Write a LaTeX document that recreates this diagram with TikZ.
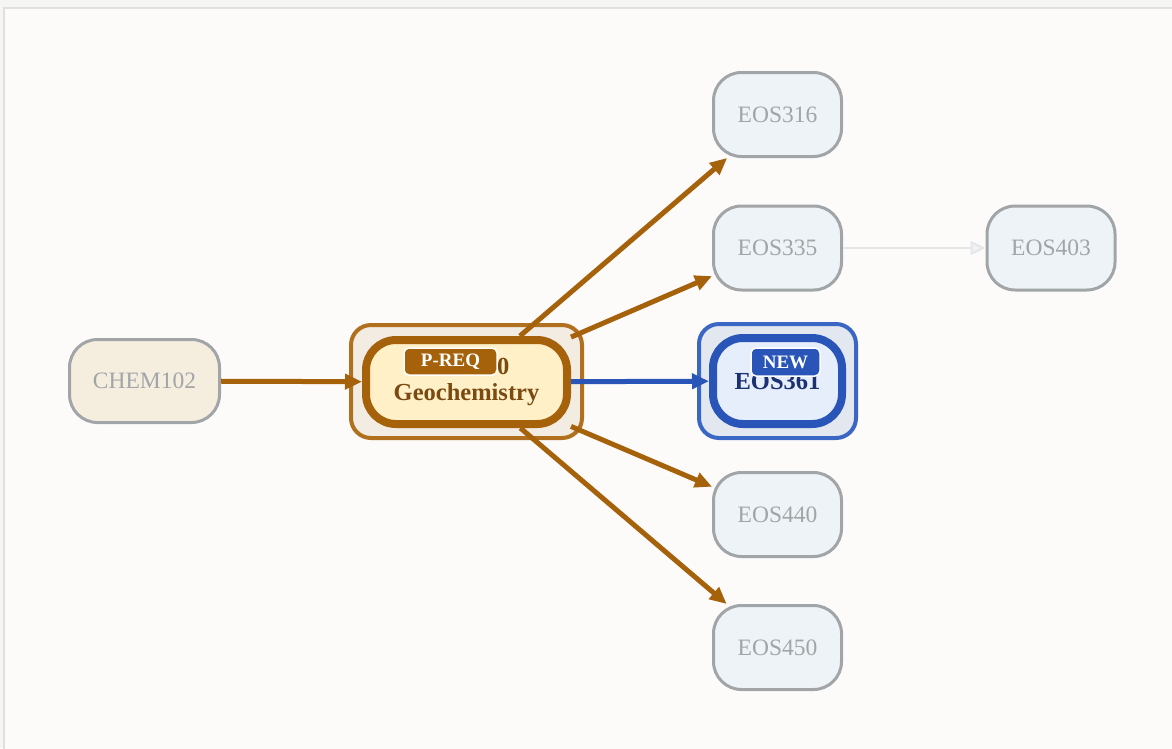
\documentclass[tikz,border=0pt]{standalone}
\usepackage{fontspec}
\setmainfont{Liberation Serif}
\usetikzlibrary{arrows.meta}

\definecolor{pagebg}{HTML}{F5F5F4}
\definecolor{panelbg}{HTML}{FCFBFA}
\definecolor{panelline}{HTML}{E0E0E0}
\definecolor{mutegray}{HTML}{A2A5A8}
\definecolor{coursefill}{HTML}{EDF3F6}
\definecolor{chemfill}{HTML}{F5EEDF}
\definecolor{ochre}{HTML}{A5620A}
\definecolor{ochreframe}{HTML}{B0701E}
\definecolor{framefill}{HTML}{F2ECE3}
\definecolor{corefill}{HTML}{FFF0C8}
\definecolor{coretext}{HTML}{7A4A10}
\definecolor{royal}{HTML}{2A55B8}
\definecolor{royalframe}{HTML}{3A66C4}
\definecolor{blueframefill}{HTML}{E3E8F0}
\definecolor{bluecorefill}{HTML}{E6EEFC}
\definecolor{navytext}{HTML}{1C3270}
\definecolor{fadeline}{HTML}{E4E6E8}
\definecolor{fadefill}{HTML}{F0F2F4}

\begin{document}
\begin{tikzpicture}[x=1pt,y=-1pt,
  course/.style={draw=mutegray, line width=3pt, rounded corners=28pt,
    fill=coursefill, text=mutegray, font=\fontsize{23.5}{26}\selectfont,
    minimum width=128pt, minimum height=84pt, inner sep=0pt},
  chemcourse/.style={course, fill=chemfill, minimum width=150pt, minimum height=83pt},
  outerframe/.style={line width=4pt, rounded corners=20pt, inner sep=0pt},
  corebox/.style={line width=8pt, rounded corners=30pt, inner sep=0pt,
    font=\bfseries\fontsize{24.5}{26}\selectfont, align=center},
  badge/.style={draw=white, line width=1.5pt, rounded corners=5pt, text=white,
    font=\bfseries\fontsize{19}{19}\selectfont, inner sep=0pt},
  ochreedge/.style={draw=ochre, line width=5pt, -{Triangle[length=17pt,width=15pt]}},
  royaledge/.style={draw=royal, line width=5pt, -{Triangle[length=17pt,width=15pt]}},
  fadeedge/.style={draw=fadeline, line width=2pt,
    -{Triangle[length=15pt,width=14pt,fill=fadefill]}}
]
\useasboundingbox (0,0) rectangle (1172,748);
\clip (0,0) rectangle (1172,748);
\fill[pagebg] (0,0) rectangle (1172,748);
\draw[draw=panelline, fill=panelbg, line width=2pt] (4,8) rectangle (1190,770);

% prerequisite on the left
\node[chemcourse] (chem) at (144.5,381) {CHEM102};

% selected course with its frame and badge
\node[outerframe, draw=ochreframe, fill=framefill,
      minimum width=231pt, minimum height=113pt] (geoframe) at (466.5,381.5) {};
\node[corebox, draw=ochre, fill=corefill, text=coretext,
      minimum width=201pt, minimum height=84pt] (geo) at (466.5,382) {EOS220\\Geochemistry};
\node[badge, fill=ochre, minimum width=93pt, minimum height=27pt] (preq) at (450.5,361.5) {P-REQ};

% new course with its frame and badge
\node[outerframe, draw=royalframe, fill=blueframefill,
      minimum width=157pt, minimum height=114pt] (newframe) at (777.5,381) {};
\node[corebox, draw=royal, fill=bluecorefill, text=navytext,
      minimum width=129pt, minimum height=86pt] (e361) at (777.5,381) {EOS361};
\node[badge, fill=royal, minimum width=69pt, minimum height=28pt] (newtag) at (785.5,362) {NEW};

% follow-on courses
\node[course] (e316) at (777.5,114.5) {EOS316};
\node[course] (e335) at (777.5,248) {EOS335};
\node[course] (e403) at (1051,248) {EOS403};
\node[course] (e440) at (777.5,514.5) {EOS440};
\node[course] (e450) at (777.5,647.5) {EOS450};

% connectors
\draw[ochreedge] (chem) -- (geo);
\draw[ochreedge] (geo) -- (e316);
\draw[ochreedge] (geo) -- (e335);
\draw[ochreedge] (geo) -- (e440);
\draw[ochreedge] (geo) -- (e450);
\draw[royaledge] (geo) -- (e361);
\draw[fadeedge] (e335) -- (e403);
\end{tikzpicture}
\end{document}
